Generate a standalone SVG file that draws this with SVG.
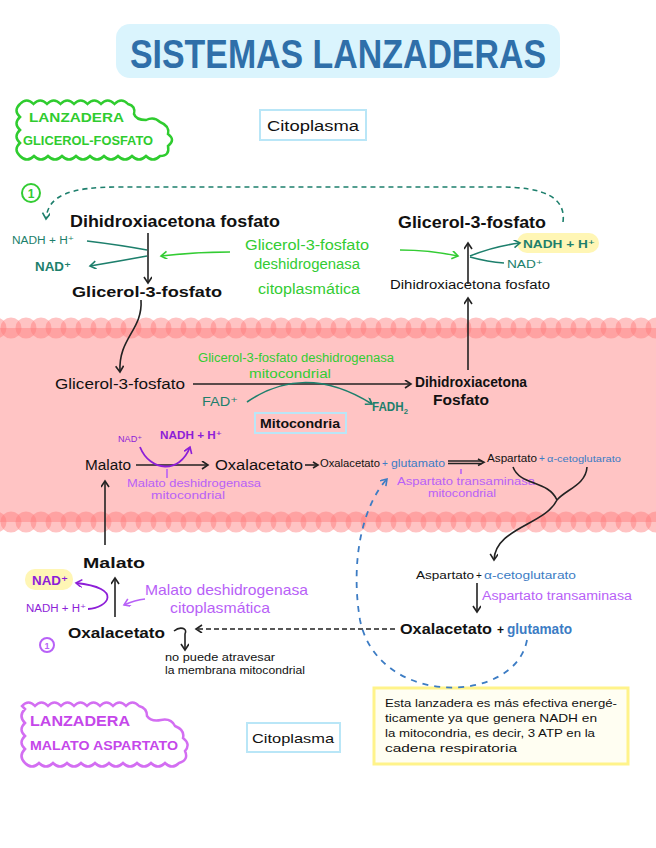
<svg xmlns="http://www.w3.org/2000/svg" width="656" height="848" viewBox="0 0 656 848">
<style>
text{font-family:"Liberation Sans","DejaVu Sans",sans-serif;}
.k{fill:#111;}
.b{font-weight:bold;}
.teal{fill:#1d7f6c;}
.grn{fill:#33cc33;}
.pur{fill:#8d1ed8;}
.lp{fill:#b861f7;}
.blu{fill:#3c7cc4;}
.ln{fill:none;stroke:#222;stroke-width:1.6;}
.lt{fill:none;stroke:#1d7f6c;stroke-width:1.6;}
.lg{fill:none;stroke:#33cc33;stroke-width:1.6;}
.lpp{fill:none;stroke:#8d1ed8;stroke-width:1.8;}
.llp{fill:none;stroke:#b861f7;stroke-width:1.6;}
.box{fill:none;stroke:#b9e6f7;stroke-width:2;}
.mem{stroke:#ff7a7a;stroke-opacity:0.45;stroke-width:21;stroke-linecap:round;stroke-dasharray:0 30;}
</style>
<defs>
<marker id="ak" markerWidth="10" markerHeight="10" refX="7" refY="4" orient="auto" markerUnits="userSpaceOnUse"><path d="M1,0 L7,4 L1,8" fill="none" stroke="#222" stroke-width="1.6"/></marker>
<marker id="at" markerWidth="10" markerHeight="10" refX="7" refY="4" orient="auto" markerUnits="userSpaceOnUse"><path d="M1,0 L7,4 L1,8" fill="none" stroke="#1d7f6c" stroke-width="1.6"/></marker>
<marker id="ag" markerWidth="10" markerHeight="10" refX="7" refY="4" orient="auto" markerUnits="userSpaceOnUse"><path d="M1,0 L7,4 L1,8" fill="none" stroke="#33cc33" stroke-width="1.6"/></marker>
<marker id="ap" markerWidth="10" markerHeight="10" refX="7" refY="4" orient="auto" markerUnits="userSpaceOnUse"><path d="M1,0 L7,4 L1,8" fill="none" stroke="#8d1ed8" stroke-width="1.6"/></marker>
<marker id="alp" markerWidth="10" markerHeight="10" refX="7" refY="4" orient="auto" markerUnits="userSpaceOnUse"><path d="M1,0 L7,4 L1,8" fill="none" stroke="#b861f7" stroke-width="1.6"/></marker>
<marker id="ab" markerWidth="10" markerHeight="10" refX="7" refY="4" orient="auto" markerUnits="userSpaceOnUse"><path d="M1,0 L7,4 L1,8" fill="none" stroke="#3c7cc4" stroke-width="1.6"/></marker>
</defs>

<!-- membrane -->
<g id="membrane">
<rect x="0" y="328" width="656" height="194" fill="#ffc4c4"/>
<path d="M-4,328 H660" class="mem"/>
<path d="M11,328 H660" class="mem"/>
<path d="M-4,522 H660" class="mem"/>
<path d="M11,522 H660" class="mem"/>
</g>

<!-- title -->
<g id="title">
<rect x="116" y="24" width="444" height="54" rx="14" fill="#daf4fd"/>
<text x="338" y="68" text-anchor="middle" font-size="40" font-weight="bold" fill="#2f6fa9" textLength="416" lengthAdjust="spacingAndGlyphs">SISTEMAS LANZADERAS</text>
</g>

<!-- green label -->
<g id="label-glicerol">
<path d="M20,104 q6.75,-7 13.5,0 q6.75,-7 13.5,0 q6.75,-7 13.5,0 q6.75,-7 13.5,0 q6.75,-7 13.5,0 q6.75,-7 13.5,0 q6.75,-7 13.5,0 q6.75,-7 13.5,0 q8,2 6,10 q2,6 12,6 q8,-4 14,2 q10,4 8,12 q8,6 0,12 q2,10 -8,10 q-7,7 -14,0 q-7,7 -14,0 q-7,7 -14,0 q-7,7 -14,0 q-7,7 -14,0 q-7,7 -14,0 q-7,7 -14,0 q-7,7 -14,0 q-7,7 -14,0 q-7,7 -14,0 q-7,-6.5 0,-13 q-7,-6.5 0,-13 q-7,-6.5 0,-13 q-7,-6.5 0,-13z" fill="none" stroke="#2fcc2f" stroke-width="2.5"/>
<text x="29" y="122" font-size="13" font-weight="bold" fill="#2fcc2f" textLength="95" lengthAdjust="spacingAndGlyphs">LANZADERA</text>
<text x="23" y="145" font-size="13" font-weight="bold" fill="#2fcc2f" textLength="130" lengthAdjust="spacingAndGlyphs">GLICEROL-FOSFATO</text>
</g>

<g id="citoplasma-top">
<rect x="260" y="110" width="106" height="30" class="box"/>
<text x="313" y="131" text-anchor="middle" font-size="14" class="k" textLength="92" lengthAdjust="spacingAndGlyphs">Citoplasma</text>
</g>

<g id="num1">
<circle cx="31" cy="193" r="9" fill="none" stroke="#33cc33" stroke-width="2"/>
<text x="31" y="198" text-anchor="middle" font-size="12" font-weight="bold" class="grn">1</text>
</g>

<!-- top left reaction -->
<g id="dhap-cyto">
<text x="70" y="227" font-size="16" class="k b" textLength="210" lengthAdjust="spacingAndGlyphs">Dihidroxiacetona fosfato</text>
</g>
<g id="nadh-left">
<text x="12" y="244" font-size="10" class="teal" textLength="62" lengthAdjust="spacingAndGlyphs">NADH + H⁺</text>
<text x="35" y="271" font-size="12" class="teal b" textLength="36" lengthAdjust="spacingAndGlyphs">NAD⁺</text>
</g>
<g id="enz-g3pdh-cyto">
<text x="307" y="250" text-anchor="middle" font-size="14" class="grn" textLength="124" lengthAdjust="spacingAndGlyphs">Glicerol-3-fosfato</text>
<text x="307" y="269" text-anchor="middle" font-size="14" class="grn" textLength="106" lengthAdjust="spacingAndGlyphs">deshidrogenasa</text>
<text x="309" y="294" text-anchor="middle" font-size="14" class="grn" textLength="102" lengthAdjust="spacingAndGlyphs">citoplasmática</text>
</g>
<g id="g3p-cyto">
<text x="72" y="297" font-size="15" class="k b" textLength="150" lengthAdjust="spacingAndGlyphs">Glicerol-3-fosfato</text>
</g>

<!-- top right -->
<g id="g3p-cyto-right">
<text x="398" y="228" font-size="16" class="k b" textLength="148" lengthAdjust="spacingAndGlyphs">Glicerol-3-fosfato</text>
</g>
<g id="nadh-right">
<rect x="517" y="233" width="82" height="20" rx="10" fill="#fff6b5"/>
<text x="523" y="248" font-size="11" class="teal b" textLength="72" lengthAdjust="spacingAndGlyphs">NADH + H⁺</text>
<text x="507" y="268" font-size="11" class="teal" textLength="36" lengthAdjust="spacingAndGlyphs">NAD⁺</text>
</g>
<g id="dhap-cyto-right">
<text x="390" y="289" font-size="12" class="k" textLength="160" lengthAdjust="spacingAndGlyphs">Dihidroxiacetona fosfato</text>
</g>

<!-- mitochondria part glycerol -->
<g id="g3p-mito">
<text x="55" y="389" font-size="14" class="k" textLength="130" lengthAdjust="spacingAndGlyphs">Glicerol-3-fosfato</text>
</g>
<g id="dhap-mito">
<text x="415" y="387" font-size="14" class="k b" textLength="112" lengthAdjust="spacingAndGlyphs">Dihidroxiacetona</text>
<text x="433" y="405" font-size="14" class="k b" textLength="56" lengthAdjust="spacingAndGlyphs">Fosfato</text>
</g>
<g id="enz-g3pdh-mito">
<text x="296" y="362" text-anchor="middle" font-size="12" class="grn" textLength="196" lengthAdjust="spacingAndGlyphs">Glicerol-3-fosfato deshidrogenasa</text>
<text x="290" y="378" text-anchor="middle" font-size="12" class="grn" textLength="82" lengthAdjust="spacingAndGlyphs">mitocondrial</text>
</g>
<g id="fad">
<text x="202" y="406" font-size="12" class="teal" textLength="36" lengthAdjust="spacingAndGlyphs">FAD⁺</text>
<text x="372" y="411" font-size="12" class="teal b" textLength="36" lengthAdjust="spacingAndGlyphs">FADH<tspan font-size="8" dy="3">2</tspan></text>
</g>
<g id="mitocondria-label">
<rect x="255" y="413" width="91" height="20" class="box"/>
<text x="300" y="428" text-anchor="middle" font-size="12" class="k b" textLength="80" lengthAdjust="spacingAndGlyphs">Mitocondria</text>
</g>

<!-- malate aspartate mito -->
<g id="malato-mito">
<text x="85" y="470" font-size="14" class="k" textLength="46" lengthAdjust="spacingAndGlyphs">Malato</text>
</g>
<g id="oaa-mito">
<text x="215" y="470" font-size="14" class="k" textLength="88" lengthAdjust="spacingAndGlyphs">Oxalacetato</text>
</g>
<g id="oaa-glu-mito">
<text x="320" y="467" font-size="10" class="k" textLength="60" lengthAdjust="spacingAndGlyphs">Oxalacetato</text>
<text x="382" y="467" font-size="10" class="blu">+</text>
<text x="391" y="467" font-size="10" class="blu" textLength="54" lengthAdjust="spacingAndGlyphs">glutamato</text>
</g>
<g id="asp-akg-mito">
<text x="487" y="462" font-size="10" class="k" textLength="50" lengthAdjust="spacingAndGlyphs">Aspartato</text>
<text x="539" y="462" font-size="10" class="blu">+</text>
<text x="547" y="462" font-size="9" class="blu" textLength="74" lengthAdjust="spacingAndGlyphs">α-cetoglutarato</text>
</g>
<g id="nadh-mito">
<text x="118" y="442" font-size="9" class="pur" textLength="24" lengthAdjust="spacingAndGlyphs">NAD⁺</text>
<text x="160" y="439" font-size="11" class="pur b" textLength="62" lengthAdjust="spacingAndGlyphs">NADH + H⁺</text>
</g>
<g id="enz-mdh-mito">
<text x="194" y="487" text-anchor="middle" font-size="11" class="lp" textLength="134" lengthAdjust="spacingAndGlyphs">Malato deshidrogenasa</text>
<text x="188" y="499" text-anchor="middle" font-size="11" class="lp" textLength="74" lengthAdjust="spacingAndGlyphs">mitocondrial</text>
</g>
<g id="enz-ast-mito">
<text x="466" y="485" text-anchor="middle" font-size="11" class="lp" textLength="138" lengthAdjust="spacingAndGlyphs">Aspartato transaminasa</text>
<text x="462" y="497" text-anchor="middle" font-size="11" class="lp" textLength="68" lengthAdjust="spacingAndGlyphs">mitocondrial</text>
</g>

<!-- cytoplasm malate aspartate -->
<g id="malato-cyto">
<text x="83" y="568" font-size="15" class="k b" textLength="62" lengthAdjust="spacingAndGlyphs">Malato</text>
</g>
<g id="nadh-cyto">
<rect x="25" y="569" width="48" height="21" rx="10" fill="#fff6b5"/>
<text x="32" y="585" font-size="12" class="pur b" textLength="36" lengthAdjust="spacingAndGlyphs">NAD⁺</text>
<text x="26" y="612" font-size="10" class="pur" textLength="60" lengthAdjust="spacingAndGlyphs">NADH + H⁺</text>
</g>
<g id="enz-mdh-cyto">
<text x="145" y="595" font-size="15" class="lp" textLength="163" lengthAdjust="spacingAndGlyphs">Malato deshidrogenasa</text>
<text x="170" y="613" font-size="15" class="lp" textLength="100" lengthAdjust="spacingAndGlyphs">citoplasmática</text>
</g>
<g id="oaa-cyto">
<text x="68" y="638" font-size="15" class="k b" textLength="97" lengthAdjust="spacingAndGlyphs">Oxalacetato</text>
</g>
<g id="note-membrana">
<text x="165" y="661" font-size="10" class="k" textLength="110" lengthAdjust="spacingAndGlyphs">no puede atravesar</text>
<text x="165" y="674" font-size="10" class="k" textLength="140" lengthAdjust="spacingAndGlyphs">la membrana mitocondrial</text>
</g>
<g id="num2">
<circle cx="47" cy="645" r="7" fill="none" stroke="#b861f7" stroke-width="2"/>
<text x="47" y="649" text-anchor="middle" font-size="9" class="lp b">1</text>
</g>
<g id="asp-akg-cyto">
<text x="416" y="579" font-size="10" class="k" textLength="58" lengthAdjust="spacingAndGlyphs">Aspartato</text>
<text x="476" y="579" font-size="10" class="k">+</text>
<text x="484" y="579" font-size="10" class="blu" textLength="92" lengthAdjust="spacingAndGlyphs">α-cetoglutarato</text>
</g>
<g id="enz-ast-cyto">
<text x="482" y="600" font-size="12" class="lp" textLength="150" lengthAdjust="spacingAndGlyphs">Aspartato transaminasa</text>
</g>
<g id="oaa-glu-cyto">
<text x="400" y="634" font-size="14" class="k b" textLength="92" lengthAdjust="spacingAndGlyphs">Oxalacetato</text>
<text x="497" y="634" font-size="12" class="k b">+</text>
<text x="507" y="634" font-size="14" class="blu b" textLength="65" lengthAdjust="spacingAndGlyphs">glutamato</text>
</g>

<!-- bottom label -->
<g id="label-malato">
<path d="M22,706 q6.5,-7 13,0 q6.5,-7 13,0 q6.5,-7 13,0 q6.5,-7 13,0 q6.5,-7 13,0 q6.5,-7 13,0 q6.5,-7 13,0 q6.5,-7 13,0 q6.5,-7 13,0 q8,2 8,10 q4,6 14,4 q10,-2 14,6 q10,4 8,12 q8,6 2,13 q4,9 -6,12 q-7,7 -14,0 q-7,7 -14,0 q-7,7 -14,0 q-7,7 -14,0 q-7,7 -14,0 q-7,7 -14,0 q-7,7 -14,0 q-7,7 -14,0 q-7,7 -14,0 q-7,7 -14,0 q-7,7 -14,0 q-7,-7 0,-14 q-7,-6.5 0,-13 q-7,-6.5 0,-13 q-7,-7 0,-14z" fill="none" stroke="#d36ef2" stroke-width="2.5"/>
<text x="30" y="726" font-size="14" font-weight="bold" fill="#c547ea" textLength="100" lengthAdjust="spacingAndGlyphs">LANZADERA</text>
<text x="30" y="750" font-size="12" font-weight="bold" fill="#c547ea" textLength="148" lengthAdjust="spacingAndGlyphs">MALATO ASPARTATO</text>
</g>
<g id="citoplasma-bottom">
<rect x="247" y="723" width="93" height="29" class="box"/>
<text x="293" y="743" text-anchor="middle" font-size="13" class="k" textLength="82" lengthAdjust="spacingAndGlyphs">Citoplasma</text>
</g>
<g id="note">
<rect x="374" y="688" width="254" height="76" fill="#fffef2" stroke="#fff38a" stroke-width="3"/>
<text x="385" y="707" font-size="10.5" class="k" textLength="232" lengthAdjust="spacingAndGlyphs">Esta lanzadera es más efectiva energé-</text>
<text x="385" y="722" font-size="10.5" class="k" textLength="212" lengthAdjust="spacingAndGlyphs">ticamente ya que genera NADH en</text>
<text x="385" y="737" font-size="10.5" class="k" textLength="210" lengthAdjust="spacingAndGlyphs">la mitocondria, es decir, 3 ATP en la</text>
<text x="385" y="752" font-size="10.5" class="k" textLength="132" lengthAdjust="spacingAndGlyphs">cadena respiratoria</text>
</g>

<!-- connectors -->
<g id="connectors">
<path d="M563,222 C566,198 545,187 500,187 L120,187 C70,187 48,195 46,219" class="lt" stroke-dasharray="5 4" marker-end="url(#at)"/>
<path d="M148,233 V283" class="ln" marker-end="url(#ak)"/>
<path d="M87,241 Q120,245 147,250" class="lt"/>
<path d="M147,256 Q120,261 90,266" class="lt" marker-end="url(#at)"/>
<path d="M230,252 Q195,252 161,256" class="lg" marker-end="url(#ag)"/>
<path d="M141,300 C143,330 118,338 120,372" class="ln" marker-end="url(#ak)"/>
<path d="M468,284 V243" class="ln" marker-end="url(#ak)"/>
<path d="M400,250 Q430,250 458,256" class="lg" marker-end="url(#ag)"/>
<path d="M470,256 Q495,246 520,243" class="lt" marker-end="url(#at)"/>
<path d="M470,257 Q488,262 504,263" class="lt"/>
<path d="M468,370 V298" class="ln" marker-end="url(#ak)"/>
<path d="M193,384 H411" class="ln" marker-end="url(#ak)"/>
<path d="M247,402 Q305,362 372,404" class="lt" marker-end="url(#at)"/>
<path d="M136,465 H208" class="ln" marker-end="url(#ak)"/>
<path d="M305,465 H318" class="ln" stroke-width="1.3"/>
<path d="M313,462 L318,465 L313,468" class="ln" stroke-width="1.3"/>
<path d="M448,461 H482 M448,463.5 H482" class="ln" stroke-width="1.2"/>
<path d="M478,459 L484,462.2 L478,465.5" class="ln" stroke-width="1.2"/>
<path d="M140,447 C150,472 180,474 190,447" class="lpp" marker-end="url(#ap)"/>
<path d="M167,478 V469" class="llp" stroke-width="1.2"/>
<path d="M461,474 V469" class="llp" stroke-width="1.2"/>
<path d="M105,545 V481" class="ln" marker-end="url(#ak)"/>
<path d="M513,467 C520,486 548,480 557,500 M587,467 C586,485 565,490 557,500 M557,500 C545,525 495,528 494,560" class="ln" marker-end="url(#ak)"/>
<path d="M115,617 V578" class="ln" marker-end="url(#ak)"/>
<path d="M88,609 C108,608 124,588 76,583" class="lpp" marker-end="url(#ap)"/>
<path d="M145,599 Q135,600 124,605" class="llp" marker-end="url(#alp)"/>
<path d="M174,631 C180,626 188,628 185,634 L185,650" class="ln" stroke-width="1.3" marker-end="url(#ak)"/>
<path d="M395,629 H196" class="ln" stroke-width="1.3" stroke-dasharray="5 3" marker-end="url(#ak)"/>
<path d="M477,583 V612" class="ln" marker-end="url(#ak)"/>
<path d="M527,640 C515,705 378,708 360,620 C350,560 363,505 387,479" fill="none" stroke="#3c7cc4" stroke-width="1.8" stroke-dasharray="6 6" marker-end="url(#ab)"/>
</g>
</svg>
